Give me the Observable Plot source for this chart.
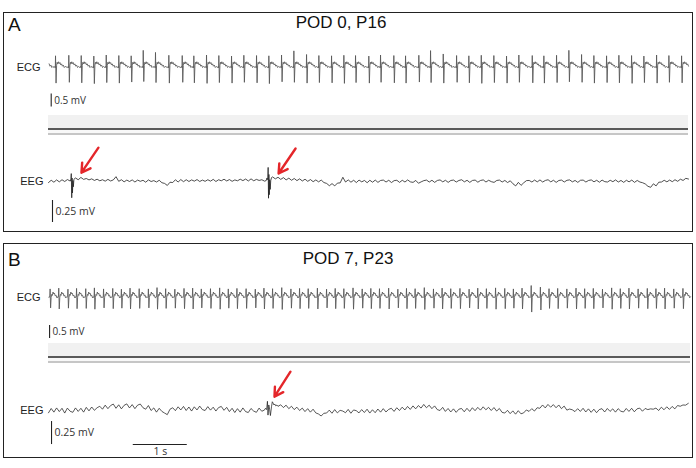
<!DOCTYPE html>
<html><head><meta charset="utf-8">
<script src="https://cdn.jsdelivr.net/npm/d3@7"></script>
<script src="https://cdn.jsdelivr.net/npm/@observablehq/plot@0.6"></script>
<style>
html,body{margin:0;padding:0;background:#fff;}
#fig{position:relative;width:696px;height:468px;overflow:hidden;font-family:"Liberation Sans",Arial,sans-serif;color:#111;}
.panel{position:absolute;left:3px;width:690px;border:1.6px solid #222;box-sizing:border-box;}
.letter{position:absolute;left:8px;font-size:19px;line-height:19px;}
.title{position:absolute;font-size:17px;line-height:17px;transform:translateX(-50%);white-space:nowrap;}
.band{position:absolute;left:48px;height:20px;background:#f1f1f1;}
.band .dark{position:absolute;left:0;right:0;top:13px;height:2px;background:#5a5a5a;}
.band .gap{position:absolute;left:0;right:0;top:15px;height:3px;background:#f8f8f8;}
.band .light{position:absolute;left:0;right:0;top:18px;height:1.5px;background:#c6c6c6;}
</style></head>
<body><div id="fig"></div>
<script>
// ---------- data ----------
const panelLetters = ["A", "B"];
const panelTitles = ["POD 0, P16", "POD 7, P23"];
const traceLabels = ["ECG", "EEG"];
const ecgScaleLabel = "0.5 mV";   const ecgScaleValue = 0.5;   // mV
const eegScaleLabel = "0.25 mV";  const eegScaleValue = 250;   // µV
const timeScaleLabel = "1 s";     const timeScaleValue = 1;    // s

// Panel A ECG: beat (R) times in s, R peak and S trough in mV
const ecgA_times = [-0.10, 0.130, 0.376, 0.606, 0.839, 1.069, 1.302, 1.531, 1.754, 1.981,
  2.228, 2.476, 2.691, 2.926, 3.154, 3.389, 3.617, 3.852, 4.080, 4.315,
  4.543, 4.778, 5.006, 5.241, 5.469, 5.685, 5.931, 6.148, 6.394, 6.611,
  6.857, 7.074, 7.309, 7.556, 7.783, 8.013, 8.246, 8.481, 8.709, 8.957,
  9.172, 9.407, 9.635, 9.870, 10.098, 10.333, 10.561, 10.796, 11.024, 11.259,
  11.487, 11.722];
const ecgA_R = [0.46, 0.45, 0.47, 0.46, 0.44, 0.48, 0.46, 0.45, 0.66, 0.58,
  0.47, 0.46, 0.45, 0.48, 0.46, 0.44, 0.47, 0.46, 0.45, 0.48,
  0.64, 0.50, 0.46, 0.45, 0.47, 0.46, 0.44, 0.48, 0.46, 0.45,
  0.47, 0.65, 0.52, 0.46, 0.45, 0.47, 0.46, 0.44, 0.48, 0.46,
  0.45, 0.47, 0.66, 0.50, 0.46, 0.45, 0.47, 0.46, 0.44, 0.48,
  0.46, 0.45];
const ecgA_S = [-0.58, -0.60, -0.57, -0.59, -0.62, -0.58, -0.60, -0.56, -0.54, -0.58,
  -0.60, -0.57, -0.59, -0.61, -0.58, -0.60, -0.57, -0.59, -0.62, -0.55,
  -0.57, -0.60, -0.58, -0.59, -0.61, -0.58, -0.60, -0.57, -0.59, -0.60,
  -0.56, -0.58, -0.60, -0.57, -0.59, -0.61, -0.58, -0.60, -0.57, -0.59,
  -0.60, -0.58, -0.55, -0.57, -0.60, -0.58, -0.59, -0.61, -0.58, -0.60,
  -0.57, -0.59];
// one beat of panel A ECG: [offset from R (s), mV or R/S]
const ecgA_beat = [[-0.025, 0.0], [-0.012, 0.04], [-0.004, -0.01], [0, "R"], [0.01, "S"],
  [0.02, 0.08], [0.03, 0.20], [0.042, 0.14], [0.055, 0.22], [0.068, 0.15],
  [0.082, 0.19], [0.097, 0.10], [0.112, 0.14], [0.128, 0.05], [0.145, 0.09],
  [0.162, 0.0], [0.18, 0.04]];

// Panel B ECG
const ecgB_times = [-0.13, 0.03, 0.19, 0.36, 0.52, 0.69, 0.85, 1.02, 1.19, 1.35,
  1.51, 1.68, 1.85, 2.01, 2.17, 2.34, 2.51, 2.67, 2.83, 3.00,
  3.17, 3.33, 3.49, 3.66, 3.83, 3.99, 4.15, 4.32, 4.49, 4.65,
  4.81, 4.98, 5.15, 5.31, 5.47, 5.64, 5.81, 5.97, 6.13, 6.30,
  6.47, 6.63, 6.79, 6.96, 7.13, 7.29, 7.45, 7.62, 7.79, 7.95,
  8.11, 8.28, 8.45, 8.61, 8.77, 8.94, 9.11, 9.27, 9.43, 9.60,
  9.77, 9.93, 10.09, 10.26, 10.43, 10.59, 10.75, 10.92, 11.09, 11.25,
  11.41, 11.58, 11.75];
const ecgB_R = [0.34, 0.33, 0.36, 0.32, 0.35, 0.34, 0.37, 0.33, 0.35, 0.32,
  0.36, 0.34, 0.33, 0.38, 0.34, 0.32, 0.35, 0.36, 0.33, 0.34,
  0.37, 0.33, 0.35, 0.34, 0.32, 0.36, 0.34, 0.38, 0.33, 0.35,
  0.34, 0.36, 0.32, 0.35, 0.34, 0.37, 0.33, 0.35, 0.34, 0.36,
  0.32, 0.35, 0.34, 0.38, 0.33, 0.36, 0.34, 0.35, 0.32, 0.36,
  0.34, 0.37, 0.35, 0.33, 0.36, 0.46, 0.40, 0.34, 0.35, 0.33,
  0.36, 0.34, 0.35, 0.32, 0.37, 0.34, 0.36, 0.33, 0.35, 0.34,
  0.36, 0.33, 0.35];
const ecgB_S = [-0.42, -0.40, -0.44, -0.41, -0.43, -0.42, -0.45, -0.40, -0.43, -0.41,
  -0.44, -0.42, -0.40, -0.45, -0.42, -0.41, -0.43, -0.44, -0.40, -0.42,
  -0.45, -0.41, -0.43, -0.42, -0.40, -0.44, -0.42, -0.46, -0.41, -0.43,
  -0.42, -0.44, -0.40, -0.43, -0.42, -0.45, -0.41, -0.43, -0.42, -0.44,
  -0.40, -0.43, -0.42, -0.46, -0.41, -0.44, -0.42, -0.43, -0.40, -0.44,
  -0.42, -0.45, -0.43, -0.41, -0.44, -0.56, -0.48, -0.42, -0.43, -0.41,
  -0.44, -0.42, -0.43, -0.40, -0.45, -0.42, -0.44, -0.41, -0.43, -0.42,
  -0.44, -0.41, -0.43];
const ecgB_beat = [[-0.02, 0.0], [-0.006, 0.04], [0, "R"], [0.009, "S"], [0.019, 0.0],
  [0.03, 0.12], [0.042, 0.08], [0.054, 0.21], [0.066, 0.14], [0.08, 0.17],
  [0.095, 0.06], [0.11, 0.09], [0.125, -0.01], [0.14, 0.03]];

// EEG background activity, µV, one value every 0.05 s
const eegStep = 0.05;
const eegA = [
  -12, 14, -8, 18, -4, 20, 0, 22, 6, -2,
  40, 20, 46, 24, 34, 18, 30, 12, 26, 8,
  20, 4, 24, 6, 18, 55, 2, 20, -4, 16,
  0, 18, -6, 16, 2, 14, -8, 18, 0, 10,
  -6, 14, -14, -22, -45, -8, -12, 20, -6, 22,
  -2, 20, 0, 18, 4, 22, 0, 16, 2, 20,
  4, 24, 0, 20, 8, 26, 6, 22, 2, 18,
  8, 26, 10, 28, 6, 30, 8, 24, 12, 20,
  4, 10, 10, 52, 30, 48, 24, 44, 18, 38,
  14, 34, 10, 30, 6, 26, 2, 22, -2, 18,
  -4, 16, -12, -22, -48, -24, -50, -18, -16, 48,
  -6, 18, -8, 14, -12, 16, -4, 12, -14, 14,
  -8, 16, -10, 12, 16, -6, 14, -12, 10, 14,
  -10, 14, -6, 18, -4, -10, 12, -20, -4, 10,
  16, -6, 14, -10, 12, 18, -4, 14, -10, 12,
  16, -6, 12, 20, -4, 14, -10, 12, 16, -8,
  12, 18, -6, 14, -2, -10, 12, 16, -6, 12,
  -12, 8, -26, -50, -10, -44, -14, 10, 12, -6,
  16, -4, 18, -6, 12, 20, -4, 14, -10, 12,
  16, -6, 14, 18, -4, 12, -10, 14, 16, -6,
  12, 18, -4, 14, -8, 16, -2, -6, 14, -2,
  18, -6, 12, -10, 14, -4, 16, -10, 12, -6,
  -14, -28, -55, -66, -26, -50, -8, -6, 14, -4,
  16, -2, 20, 2, 26, 12, 36, 28];
const eegB = [
  -25, 22, -18, 28, -12, 24, -28, 26, -8, -20,
  28, -10, 24, -18, 34, -4, 38, 2, 30, 46,
  14, 58, 20, 54, 70, 24, 62, 18, 56, 72,
  28, 64, 20, 58, 70, 30, 14, 54, 0, 28,
  -18, 24, -10, -28, -45, 14, 30, -2, 40, 6,
  44, 0, 38, -6, 40, 6, 48, 10, 0, 42,
  4, 36, -6, 32, 44, 2, 34, -12, 24, -22,
  20, -18, 28, -12, -22, 22, -6, -20, 26, -8,
  5, 0, 0, 0, 0, 0, 62, 32, 58, 20,
  46, 10, 36, 0, 26, -12, 20, -18, 14, -26,
  -38, -60, -30, -28, 4, -30, 10, -26, 2, -6,
  -24, 12, -30, 6, -2, -26, 10, -22, 14, -28,
  8, -24, 16, -18, 20, -16, 12, 24, -10, 30,
  0, 36, 6, 44, 12, 50, 18, 54, 26, 66,
  30, 58, 20, 50, 10, 0, 34, -10, 22, -16,
  18, -20, 14, 22, -14, 24, -10, 30, -2, 34,
  4, 40, 8, 34, 0, 32, -6, 22, -20, -28,
  2, -34, -4, -40, -2, -36, -26, 6, -10, 20,
  -6, 30, 24, 60, 28, 66, 36, 64, 30, 60,
  20, 48, 4, 16, 8, -12, 20, -10, 24, -16,
  18, -20, 14, -24, 10, 20, -16, 22, -10, 18,
  -18, 20, -8, -16, 22, -10, 24, -14, 18, 26,
  -8, 22, 10, 18, 14, 26, 0, 36, 8, 40,
  12, 44, 18, 54, 46, 60, 58, 78];
// epileptiform spikes: [t (s), µV]
const eegA_spikes = [
  [[0.405, 5], [0.415, 30], [0.422, 90], [0.430, -185], [0.437, 40], [0.444, -130], [0.452, 10], [0.46, -60], [0.47, 20], [0.485, 35]],
  [[4.03, 10], [4.045, 40], [4.06, 20], [4.067, 160], [4.074, -190], [4.081, 80], [4.088, -150], [4.096, 20], [4.105, -90], [4.115, 10], [4.13, 45]]
];
const eegB_spikes = [
  [[4.0, 5], [4.02, 25], [4.04, 10], [4.055, 100], [4.065, -50], [4.08, 60], [4.095, 15], [4.11, -55], [4.13, 40], [4.145, 95], [4.16, 80], [4.175, 60], [4.19, 70], [4.21, 50], [4.23, 60], [4.25, 45]]
];
// arrow tips (t in s, µV)
const arrowsA = [{t: 0.61, v: 100}, {t: 4.26, v: 91}];
const arrowsB = [{t: 4.185, v: 150}];

// ---------- build ----------
function buildEcg(times, R, S, shape, tEnd) {
  const pts = [];
  times.forEach((t0, i) => {
    for (const [dt, val] of shape) {
      const v = val === "R" ? R[i] : val === "S" ? S[i] : val;
      const t = t0 + dt;
      if (t >= 0 && t <= tEnd) pts.push({t, v});
    }
  });
  return pts.sort((a, b) => a.t - b.t);
}
function buildEeg(base, spikes, tEnd) {
  const pts = base.map((v, i) => ({t: i * eegStep, v}))
    .filter(p => p.t <= tEnd + 1e-9 && !spikes.some(s => p.t >= s[0][0] - 1e-9 && p.t <= s[s.length - 1][0] + 1e-9));
  spikes.forEach(s => s.forEach(([t, v]) => pts.push({t, v})));
  return pts.sort((a, b) => a.t - b.t);
}

const fig = document.getElementById("fig");
const PX_PER_S = 54;
const FONT = "Liberation Sans, Arial, sans-serif";
const SCALEFONT = "Open Sans, sans-serif";

function addDiv(cls, css, html) {
  const d = document.createElement("div");
  d.className = cls; Object.assign(d.style, css);
  if (html != null) d.innerHTML = html;
  fig.append(d); return d;
}

function tracePlot({top, height, base, gain, tEnd, marginRight, marks}) {
  const p = Plot.plot({
    width: 696, height, marginLeft: 48, marginRight, marginTop: 0, marginBottom: 0,
    x: {domain: [0, tEnd], axis: null},
    y: {domain: [-(height - base) / gain, base / gain], axis: null},
    style: {overflow: "visible", background: "transparent", fontFamily: FONT},
    marks
  });
  p.style.position = "absolute"; p.style.left = "0px"; p.style.top = top + "px";
  fig.append(p);
}

function scaleBar(t, yTop, value, label, size) {
  return [
    Plot.ruleX([{t, y1: yTop, y2: yTop - value}], {x: "t", y1: "y1", y2: "y2", stroke: "#222", strokeWidth: 1.1}),
    Plot.text([label], {x: t, y: yTop - value / 2, dx: 3, text: d => d, textAnchor: "start",
      fontFamily: SCALEFONT, fontSize: size, fill: "#333"})
  ];
}
function label(text, dx) {
  return Plot.text([text], {x: 0, y: 0, dx, text: d => d, textAnchor: "end", fontSize: 11, fill: "#222", fontFamily: FONT});
}

// panels
addDiv("panel", {top: "12px", height: "220px"});
addDiv("panel", {top: "243px", height: "215px"});
addDiv("letter", {top: "15px"}, panelLetters[0]);
addDiv("letter", {top: "250px"}, panelLetters[1]);
addDiv("title", {top: "14px", left: "341px"}, panelTitles[0]);
addDiv("title", {top: "250px", left: "348px"}, panelTitles[1]);
addDiv("band", {top: "115px", width: "640px"}, '<div class="dark"></div><div class="gap"></div><div class="light"></div>');
addDiv("band", {top: "343px", width: "642px"}, '<div class="dark"></div><div class="gap"></div><div class="light"></div>');

// ECG A
const gEcg = 26;        // px per mV
const tEndA = 11.85, tEndB = 11.89;
tracePlot({top: 36, height: 78, base: 31, gain: gEcg, tEnd: tEndA, marginRight: 8, marks: [
  Plot.line(buildEcg(ecgA_times, ecgA_R, ecgA_S, ecgA_beat, tEndA), {x: "t", y: "v", stroke: "#555", strokeWidth: 0.85}),
  label(traceLabels[0], -8),
  ...scaleBar(0.05, -1.02, ecgScaleValue, ecgScaleLabel, 10)
]});

// EEG A
const gEegA = 0.088;    // px per µV
tracePlot({top: 140, height: 91, base: 41, gain: gEegA, tEnd: tEndA, marginRight: 8, marks: [
  Plot.line(buildEeg(eegA, eegA_spikes, tEndA), {x: "t", y: "v", stroke: "#222", strokeWidth: 0.8}),
  label(traceLabels[1], -5),
  ...scaleBar(0.074, -216, eegScaleValue, eegScaleLabel, 10.5),
  Plot.arrow(arrowsA, {x1: d => d.t + 17 / PX_PER_S, y1: d => d.v + 25 / gEegA, x2: "t", y2: "v",
    stroke: "#e4262a", strokeWidth: 2.4, headLength: 8})
]});

// ECG B
tracePlot({top: 266, height: 76, base: 31, gain: gEcg, tEnd: tEndB, marginRight: 6, marks: [
  Plot.line(buildEcg(ecgB_times, ecgB_R, ecgB_S, ecgB_beat, tEndB), {x: "t", y: "v", stroke: "#555", strokeWidth: 0.85}),
  label(traceLabels[0], -8),
  ...scaleBar(0.02, -1.077, ecgScaleValue, ecgScaleLabel, 10)
]});

// EEG B
const gEegB = 0.092;
tracePlot({top: 364, height: 94, base: 46, gain: gEegB, tEnd: tEndB, marginRight: 6, marks: [
  Plot.line(buildEeg(eegB, eegB_spikes, tEndB), {x: "t", y: "v", stroke: "#222", strokeWidth: 0.75}),
  label(traceLabels[1], -5),
  ...scaleBar(0.056, -120, eegScaleValue, eegScaleLabel, 10.5),
  Plot.ruleY([{y: -370, x1: 1.57, x2: 1.57 + timeScaleValue}], {y: "y", x1: "x1", x2: "x2", stroke: "#222", strokeWidth: 1.1}),
  Plot.text([timeScaleLabel], {x: 1.57 + timeScaleValue / 2, y: -370, dy: 7, text: d => d, fontFamily: SCALEFONT, fontSize: 10.5, fill: "#333"}),
  Plot.arrow(arrowsB, {x1: d => d.t + 16 / PX_PER_S, y1: d => d.v + 25 / gEegB, x2: "t", y2: "v",
    stroke: "#e4262a", strokeWidth: 2.4, headLength: 8})
]});
</script></body></html>
